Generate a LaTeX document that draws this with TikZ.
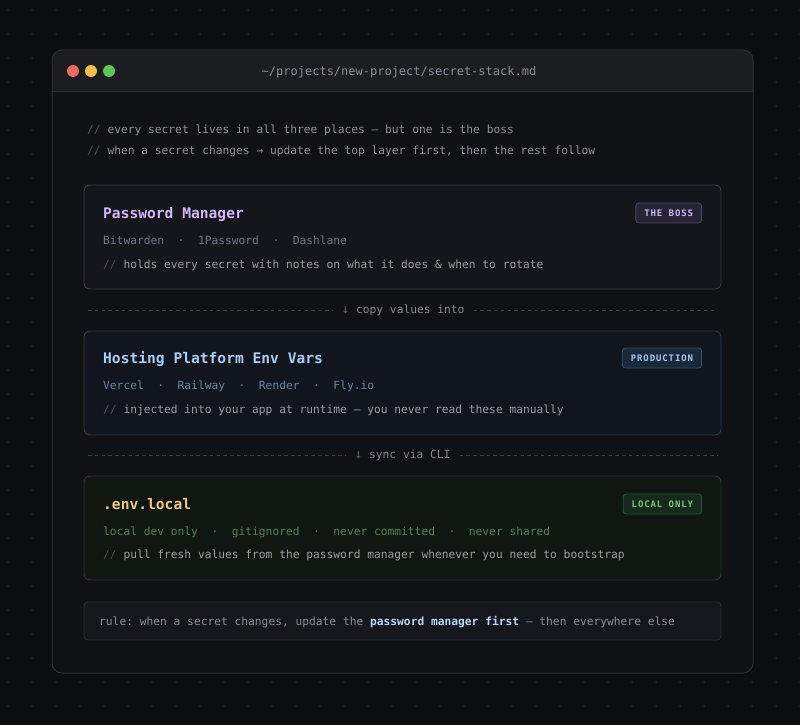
\documentclass[tikz,border=0pt]{standalone}
\usepackage{fontspec}
\setmonofont{DejaVu Sans Mono}
\usetikzlibrary{positioning, calc}

\definecolor{bgdark}{HTML}{0B0D10}
\definecolor{bgdot}{HTML}{20232A}
\definecolor{winbody}{HTML}{0F1115}
\definecolor{winbar}{HTML}{1B1D21}
\definecolor{winline}{HTML}{2B2E34}
\definecolor{titletxt}{HTML}{8A8F97}
\definecolor{cmtslash}{HTML}{4A4E56}
\definecolor{cmttxt}{HTML}{8E939B}
\definecolor{notetxt}{HTML}{9A9FA7}
\definecolor{pmfill}{HTML}{15151C}
\definecolor{pmdraw}{HTML}{383A4C}
\definecolor{pmhead}{HTML}{D4B6F6}
\definecolor{pmsub}{HTML}{77728C}
\definecolor{pmbfill}{HTML}{272436}
\definecolor{pmbdraw}{HTML}{4A4663}
\definecolor{pmbtxt}{HTML}{CBB7EF}
\definecolor{hpfill}{HTML}{11161E}
\definecolor{hpdraw}{HTML}{2C3A4B}
\definecolor{hphead}{HTML}{A9CDF4}
\definecolor{hpsub}{HTML}{6786A2}
\definecolor{hpbfill}{HTML}{19283A}
\definecolor{hpbdraw}{HTML}{35506B}
\definecolor{hpbtxt}{HTML}{A9C9EA}
\definecolor{elfill}{HTML}{101711}
\definecolor{eldraw}{HTML}{28392B}
\definecolor{elhead}{HTML}{ECC788}
\definecolor{elsub}{HTML}{4F8656}
\definecolor{elbfill}{HTML}{162A1B}
\definecolor{elbdraw}{HTML}{2F5236}
\definecolor{elbtxt}{HTML}{7CC287}
\definecolor{rulefill}{HTML}{14171C}
\definecolor{ruledraw}{HTML}{292D34}
\definecolor{ruletxt}{HTML}{8B9099}
\definecolor{ruleem}{HTML}{BAD7FB}
\definecolor{divline}{HTML}{3A3E45}
\definecolor{divtxt}{HTML}{858A92}
\definecolor{divarrow}{HTML}{60656D}
\definecolor{lightred}{HTML}{EC6A5E}
\definecolor{lightyellow}{HTML}{F4BF4F}
\definecolor{lightgreen}{HTML}{61C554}

\tikzset{
    layerbox/.style={draw, rounded corners=6pt, line width=0.9pt, minimum width=637pt,
        minimum height=104pt, inner sep=0pt, outer sep=0pt},
    heading/.style={anchor=base west, inner sep=0pt, font=\ttfamily\bfseries\fontsize{14.6}{16}\selectfont},
    tagline/.style={anchor=base west, inner sep=0pt, font=\ttfamily\fontsize{11.25}{13}\selectfont},
    note/.style={tagline, text=notetxt},
    badge/.style={draw, rounded corners=3pt, line width=0.8pt, anchor=east, minimum height=20pt,
        inner xsep=8.5pt, inner ysep=0pt, text height=6.6pt, text depth=0pt,
        font=\ttfamily\bfseries\fontsize{9}{9}\selectfont\addfontfeature{LetterSpace=10}},
    divider/.style={draw=divline, line width=1pt, dash pattern=on 3.6pt off 3.17pt},
    divlabel/.style={inner xsep=9pt, inner ysep=0pt, text height=8pt, text depth=2pt,
        text=divtxt, font=\ttfamily\fontsize{11.25}{13}\selectfont}
}

\begin{document}
\begin{tikzpicture}[x=1pt, y=-1pt]
    \useasboundingbox (0,0) rectangle (800,725);
    % Backdrop
    \fill[bgdark] (0,0) rectangle (800,725);
    \foreach \x in {8,32,...,800}
        \foreach \y in {10,34,...,725}
            \fill[bgdot] (\x,\y) circle (1pt);

    % Window
    \fill[winbody, rounded corners=10pt] (52,50) rectangle (753,673);
    \begin{scope}
        \clip[rounded corners=10pt] (52,50) rectangle (753,673);
        \fill[winbar] (52,50) rectangle (753,91);
    \end{scope}
    \draw[winline, line width=0.8pt] (52,91) -- (753,91);
    \draw[winline, line width=1pt, rounded corners=10pt] (52,50) rectangle (753,673);
    \foreach \c/\x in {lightred/73, lightyellow/91, lightgreen/109}
        \fill[\c] (\x,71) circle (6pt);
    \node[anchor=base, inner sep=0pt, text=titletxt, font=\ttfamily\fontsize{12}{14}\selectfont]
        (wintitle) at (399,75) {\textasciitilde/projects/new-project/secret-stack.md};

    % Intro comments
    \node[tagline, text=cmttxt] (intro1) at (87,133)
        {\textcolor{cmtslash}{//} every secret lives in all three places — but one is the boss};
    \node[tagline, text=cmttxt] (intro2) at (87,154)
        {\textcolor{cmtslash}{//} when a secret changes → update the top layer first, then the rest follow};

    % Password manager
    \node[layerbox, fill=pmfill, draw=pmdraw] (pm) at (402.5,237) {};
    \node[heading, text=pmhead] (pmhead) at (103,218) {Password Manager};
    \node[badge, fill=pmbfill, draw=pmbdraw, text=pmbtxt] (pmbadge) at (702,213) {THE BOSS};
    \node[tagline, text=pmsub] (pmtags) at (103,244.5) {Bitwarden~~·~~1Password~~·~~Dashlane};
    \node[note] (pmnote) at (103,268.5)
        {\textcolor{cmtslash}{//} holds every secret with notes on what it does \& when to rotate};

    % Divider 1
    \node[divlabel] (copylbl) at (403,310) {\textcolor{divarrow}{\fontsize{13}{13}\selectfont↓} copy values into};
    \coordinate (copyL) at (88,310);
    \coordinate (copyR) at (717,310);
    \draw[divider] (copyL) -- (copylbl.west);
    \draw[divider] (copylbl.east) -- (copyR);

    % Hosting platform
    \node[layerbox, fill=hpfill, draw=hpdraw] (hp) at (402.5,383) {};
    \node[heading, text=hphead] (hphead) at (103,363) {Hosting Platform Env Vars};
    \node[badge, fill=hpbfill, draw=hpbdraw, text=hpbtxt] (hpbadge) at (702,358) {PRODUCTION};
    \node[tagline, text=hpsub] (hptags) at (103,389.5) {Vercel~~·~~Railway~~·~~Render~~·~~Fly.io};
    \node[note] (hpnote) at (103,413.5)
        {\textcolor{cmtslash}{//} injected into your app at runtime — you never read these manually};

    % Divider 2
    \node[divlabel] (synclbl) at (402.5,455) {\textcolor{divarrow}{\fontsize{13}{13}\selectfont↓} sync via CLI};
    \coordinate (syncL) at (88,455);
    \coordinate (syncR) at (717,455);
    \draw[divider] (syncL) -- (synclbl.west);
    \draw[divider] (synclbl.east) -- (syncR);

    % Local env file
    \node[layerbox, fill=elfill, draw=eldraw] (el) at (402.5,528) {};
    \node[heading, text=elhead] (elhead) at (103,509) {.env.local};
    \node[badge, fill=elbfill, draw=elbdraw, text=elbtxt] (elbadge) at (702,504) {LOCAL ONLY};
    \node[tagline, text=elsub] (eltags) at (103,535.5)
        {local dev only~~·~~gitignored~~·~~never committed~~·~~never shared};
    \node[note] (elnote) at (103,558.5)
        {\textcolor{cmtslash}{//} pull fresh values from the password manager whenever you need to bootstrap};

    % Rule
    \node[layerbox, fill=rulefill, draw=ruledraw, minimum height=38pt, rounded corners=4pt] (rule) at (402.5,621) {};
    \node[tagline, text=ruletxt] (ruletxt) at (99,625)
        {rule: when a secret changes, update the \textcolor{ruleem}{\bfseries password manager first} — then everywhere else};
\end{tikzpicture}
\end{document}
